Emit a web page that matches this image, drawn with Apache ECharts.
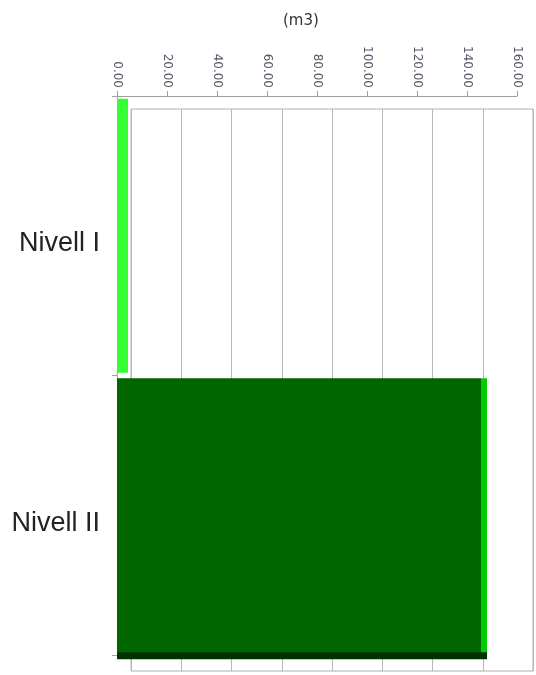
<!DOCTYPE html>
<html><head><meta charset="utf-8">
<script src="https://cdn.jsdelivr.net/npm/echarts@6/dist/echarts.min.js"></script>
<style>html,body{margin:0;padding:0;background:#fff}#c{width:536px;height:675px}</style>
</head><body><div id="c"></div>
<script>
var categories = ['Nivell I', 'Nivell II'];
var values = [4.4, 148];
var barColors = ['#33ff33', '#006600'];
var sideColors = ['#33ff33', '#00cc00'];
var axisMin = 0, axisMax = 160, axisStep = 20;
var unitLabel = '(m3)';

var chart = echarts.init(document.getElementById('c'));
var FONT = 'Liberation Sans, Arial, sans-serif';
chart.setOption({
  animation: false,
  backgroundColor: '#fff',
  title: { text: unitLabel, left: 278, top: 9, textStyle: { fontFamily: 'DejaVu Sans, sans-serif', fontSize: 15, fontWeight: 'normal', color: '#333' } },
  grid: [
    { left: 117, right: 19, top: 96, bottom: 20 },
    { left: 131, right: 3, top: 109, bottom: 4, show: true, borderColor: '#b0b0b0', borderWidth: 1, z: 0 }
  ],
  xAxis: [
    { gridIndex: 0, type: 'value', position: 'top', min: axisMin, max: axisMax, interval: axisStep,
      axisLine: { show: true, lineStyle: { color: '#a0a0a0' } },
      axisTick: { show: true, inside: false, length: 5, lineStyle: { color: '#a0a0a0' } },
      axisLabel: { rotate: 90, margin: 8, fontSize: 12, fontFamily: 'DejaVu Sans, sans-serif', color: '#556', formatter: function (v) { return v.toFixed(2); } },
      splitLine: { show: false } },
    { gridIndex: 1, type: 'value', min: axisMin, max: axisMax, interval: axisStep,
      axisLine: { show: false }, axisTick: { show: false }, axisLabel: { show: false },
      splitLine: { show: true, lineStyle: { color: '#b8b8b8', width: 1 } } }
  ],
  yAxis: [
    { gridIndex: 0, type: 'category', data: categories, inverse: true,
      axisLine: { show: true, lineStyle: { color: '#a0a0a0' } },
      axisTick: { show: true, length: 5, lineStyle: { color: '#a0a0a0' } },
      axisLabel: { fontSize: 27, fontFamily: FONT, color: '#222', margin: 17, verticalAlign: 'top', lineHeight: 16 } },
    { gridIndex: 1, type: 'category', data: categories, inverse: true, show: false }
  ],
  series: [{
    type: 'bar', xAxisIndex: 0, yAxisIndex: 0, barCategoryGap: '2%', z: 5,
    data: values.map(function (v, i) {
      return { value: v, itemStyle: {
        color: { type: 'linear', x: 0, y: 0, x2: 1, y2: 0, colorStops: [
          { offset: 0, color: barColors[i] }, { offset: 0.983, color: barColors[i] },
          { offset: 0.983, color: sideColors[i] }, { offset: 1, color: sideColors[i] } ] },
        shadowColor: i === 1 ? '#003300' : 'rgba(0,0,0,0)', shadowOffsetY: 7, shadowOffsetX: 0, shadowBlur: 0 } };
    })
  }]
});
</script></body></html>
